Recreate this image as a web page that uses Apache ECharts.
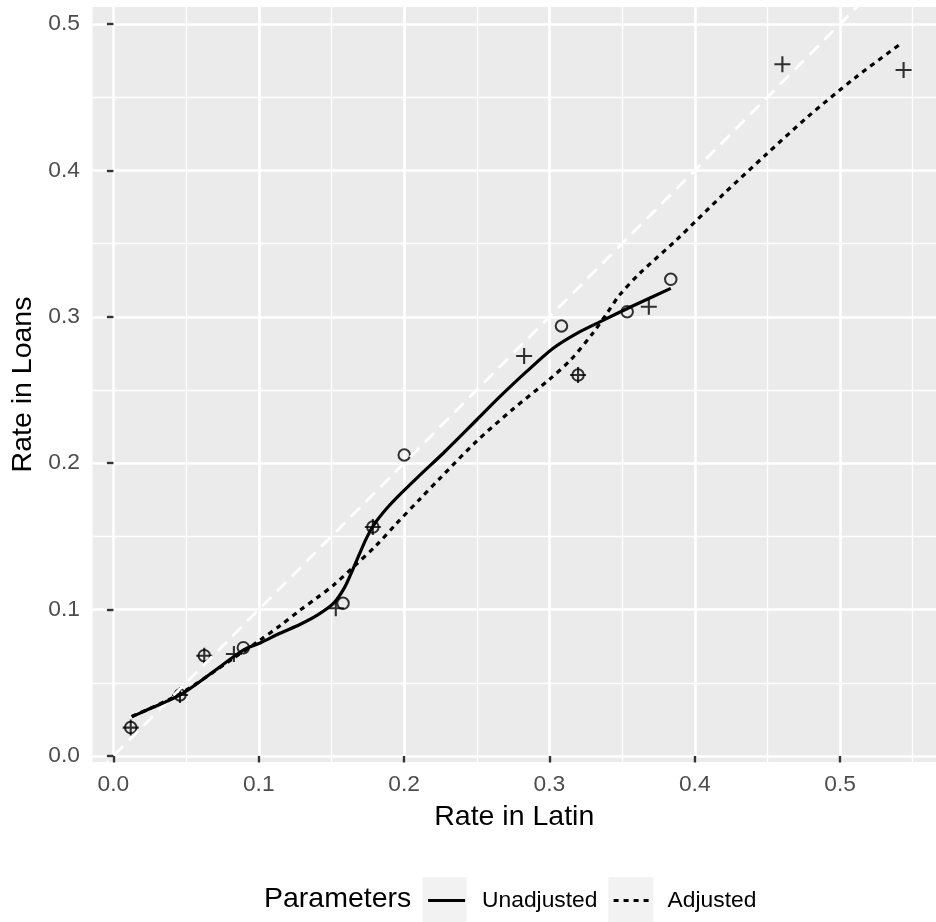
<!DOCTYPE html>
<html>
<head>
<meta charset="utf-8">
<script src="https://cdn.jsdelivr.net/npm/echarts@6/dist/echarts.min.js"></script>
<style>
  html, body { margin: 0; padding: 0; background: #fff; }
  #chart { width: 936px; height: 922px; }
</style>
</head>
<body>
<div id="chart"></div>
<script>
// tick positions
const majorTicksX = [0, 0.1, 0.2, 0.3, 0.4, 0.5]
const minorTicksX = [0.05, 0.15, 0.25, 0.35, 0.45, 0.55]
const majorTicksY = [0, 0.1, 0.2, 0.3, 0.4, 0.5]
const minorTicksY = [0.05, 0.15, 0.25, 0.35, 0.45]

// observed points (circles / pluses)
const circlePoints = [
  [0.0119, 0.0194], [0.0458, 0.0417], [0.0625, 0.0685], [0.0894, 0.0740],
  [0.1580, 0.1043], [0.1785, 0.1564], [0.2001, 0.2056], [0.3083, 0.2937],
  [0.3197, 0.2602], [0.3535, 0.3035], [0.3835, 0.3256]
]
const plusPoints = [
  [0.0119, 0.0194], [0.0458, 0.0417], [0.0625, 0.0685], [0.0829, 0.0697],
  [0.1530, 0.1009], [0.1785, 0.1564], [0.2826, 0.2732], [0.3197, 0.2602],
  [0.3684, 0.3069], [0.4603, 0.4725], [0.5437, 0.4686]
]

// y = x reference
const diagonal = [[-0.03, -0.03], [0.56, 0.56]]

// smooth fits
const unadjusted = [
  [0.0126, 0.0268], [0.0206, 0.0303], [0.0458, 0.0417], [0.0680, 0.0570],
  [0.0894, 0.0724], [0.1009, 0.0772], [0.1146, 0.0838], [0.1283, 0.0898],
  [0.1400, 0.0960], [0.1512, 0.1040], [0.1590, 0.1150], [0.1650, 0.1280],
  [0.1742, 0.1490], [0.1800, 0.1590], [0.1880, 0.1690], [0.1960, 0.1775],
  [0.2100, 0.1910], [0.2269, 0.2068], [0.2499, 0.2295], [0.2659, 0.2454],
  [0.2842, 0.2625], [0.3026, 0.2785], [0.3186, 0.2885], [0.3347, 0.2965],
  [0.3576, 0.3075], [0.3835, 0.3194]
]
const adjusted = [
  [0.0126, 0.0270], [0.0458, 0.0425], [0.0825, 0.0667], [0.1009, 0.0792],
  [0.1146, 0.0890], [0.1283, 0.0995], [0.1400, 0.1080], [0.1512, 0.1165],
  [0.1650, 0.1290], [0.1810, 0.1440], [0.1950, 0.1590], [0.2109, 0.1755],
  [0.2250, 0.1900], [0.2499, 0.2150], [0.2750, 0.2370], [0.3003, 0.2575],
  [0.3150, 0.2710], [0.3300, 0.2890], [0.3400, 0.3030], [0.3484, 0.3150],
  [0.3622, 0.3297], [0.3874, 0.3525], [0.4200, 0.3840], [0.4493, 0.4110],
  [0.4779, 0.4367], [0.5100, 0.4630], [0.5421, 0.4868]
]

const FONT = 'Liberation Sans'
const myChart = echarts.init(document.getElementById('chart'))

const tickLabel = { color: '#4D4D4D', fontFamily: FONT, fontSize: 22.8 }
const fmt = v => Number(v).toFixed(1)

let option = {
  animation: false,
  grid: {
    left: 92.5, right: 0, top: 7, bottom: 160,
    show: true, backgroundColor: '#EBEBEB', borderWidth: 0,
    outerBoundsMode: 'none'
  },
  xAxis: [
    {
      type: 'value', min: -0.0144, max: 0.566,
      name: 'Rate in Latin', nameLocation: 'middle', nameGap: 40.5,
      nameTextStyle: { color: '#000', fontFamily: FONT, fontSize: 28.5 },
      axisLine: { show: false },
      axisTick: { show: true, length: 6.5, customValues: majorTicksX, lineStyle: { color: '#333', width: 2.4 } },
      axisLabel: Object.assign({ customValues: majorTicksX, margin: 11, formatter: fmt }, tickLabel),
      splitLine: { show: true, lineStyle: { color: '#fff', width: 2.6 } }
    },
    {
      type: 'value', min: -0.0144, max: 0.566, position: 'bottom',
      axisLine: { show: false },
      axisTick: { show: false, customValues: minorTicksX },
      axisLabel: { show: false, customValues: minorTicksX },
      splitLine: { show: true, lineStyle: { color: '#fff', width: 1.3 } }
    }
  ],
  yAxis: [
    {
      type: 'value', min: -0.0041, max: 0.5116,
      name: 'Rate in Loans', nameLocation: 'middle', nameGap: 54,
      nameTextStyle: { color: '#000', fontFamily: FONT, fontSize: 28.5 },
      axisLine: { show: false },
      axisTick: { show: true, length: 6.5, customValues: majorTicksY, lineStyle: { color: '#333', width: 2.4 } },
      axisLabel: Object.assign({ customValues: majorTicksY, margin: 12.5, formatter: fmt }, tickLabel),
      splitLine: { show: true, lineStyle: { color: '#fff', width: 2.6 } }
    },
    {
      type: 'value', min: -0.0041, max: 0.5116, position: 'left',
      axisLine: { show: false },
      axisTick: { show: false, customValues: minorTicksY },
      axisLabel: { show: false, customValues: minorTicksY },
      splitLine: { show: true, lineStyle: { color: '#fff', width: 1.3 } }
    }
  ],
  legend: [
    {
      data: ['Unadjusted'], left: 426.5, top: 889, padding: 0,
      itemWidth: 37, itemHeight: 22,
      itemStyle: { opacity: 0 },
      lineStyle: { width: 3.2 },
      textStyle: { color: '#000', fontFamily: FONT, fontSize: 22.8, padding: [0, 0, 0, 12] }
    },
    {
      data: ['Adjusted'], left: 612, top: 889, padding: 0,
      itemWidth: 37, itemHeight: 22,
      itemStyle: { opacity: 0 },
      lineStyle: { width: 3.2 },
      textStyle: { color: '#000', fontFamily: FONT, fontSize: 22.8, padding: [0, 0, 0, 12] }
    }
  ],
  graphic: [
    { type: 'rect', shape: { x: 422.3, y: 877.3, width: 44.4, height: 44.7 }, style: { fill: '#F2F2F2' }, z: 0 },
    { type: 'rect', shape: { x: 608.3, y: 877.3, width: 45, height: 44.7 }, style: { fill: '#F2F2F2' }, z: 0 },
    {
      type: 'text', left: 264, top: 885,
      style: { text: 'Parameters', fill: '#000', font: '28.5px "Liberation Sans"' }
    }
  ],
  series: [
    {
      name: 'obs-circle', type: 'scatter', data: circlePoints,
      symbol: 'circle', symbolSize: 11.5,
      itemStyle: { color: 'rgba(0,0,0,0)', borderColor: '#000', borderWidth: 2 }
    },
    {
      name: 'obs-plus', type: 'scatter', data: plusPoints,
      symbol: 'path://M0,-1L0,1M-1,0L1,0', symbolSize: 16,
      itemStyle: { color: 'rgba(0,0,0,0)', borderColor: '#000', borderWidth: 2.1 }
    },
    {
      name: 'identity', type: 'line', data: diagonal, symbol: 'none', clip: true,
      lineStyle: { color: '#fff', width: 2.8, type: [13, 8] }
    },
    {
      name: 'Unadjusted', type: 'line', data: unadjusted, symbol: 'none',
      smooth: 0.3,
      lineStyle: { color: '#000', width: 3.2, type: 'solid' },
      itemStyle: { color: '#000' }
    },
    {
      name: 'Adjusted', type: 'line', data: adjusted, symbol: 'none',
      smooth: 0.3,
      lineStyle: { color: '#000', width: 3.2, type: [5, 5] },
      itemStyle: { color: '#000' }
    }
  ]
}
myChart.setOption(option)
</script>
</body>
</html>
